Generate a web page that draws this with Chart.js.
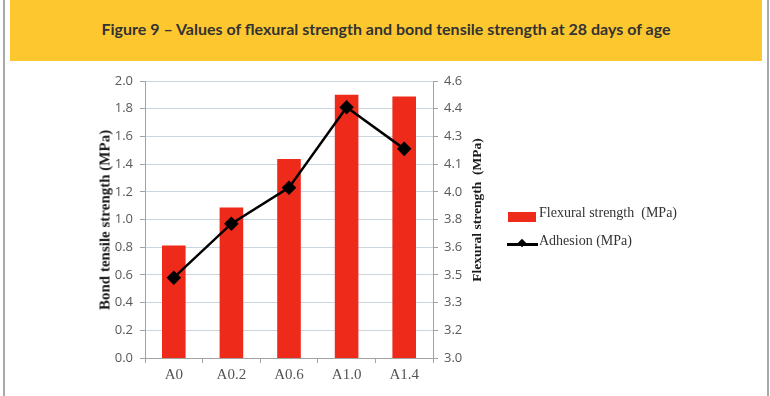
<!DOCTYPE html>
<html>
<head>
<meta charset="utf-8">
<script src="https://cdn.jsdelivr.net/npm/chart.js@4.4.1/dist/chart.umd.min.js"></script>
<style>
  html, body { margin: 0; padding: 0; background: #fff; }
  body { width: 770px; height: 396px; position: relative; overflow: hidden; }
  #frameL { position: absolute; left: 3px; top: 0; width: 2px; height: 396px; background: #a8a8a8; }
  #frameR { position: absolute; left: 767px; top: 0; width: 2px; height: 396px; background: #a8a8a8; }
  #banner { position: absolute; left: 10px; top: 0; width: 752px; height: 61px; background: #fdc82f;
            display: flex; align-items: center; justify-content: center; }
  #banner span { font-family: "Lato", sans-serif; font-weight: bold; font-size: 16px; color: #333; position: relative; top: -2px; }
  #wrap { position: absolute; left: 0; top: 61px; width: 770px; height: 335px; }
  .ytitle { position: absolute; font-family: "Liberation Serif", serif; font-weight: bold; color: #1a1a1a;
            white-space: nowrap; transform: translate(-50%, -50%) rotate(-90deg); }
  #legend { position: absolute; left: 507px; top: 205px; font-family: "Liberation Serif", serif; font-size: 14px; color: #333; }
  .li { position: absolute; white-space: nowrap; }
</style>
</head>
<body>
<div id="frameL"></div>
<div id="frameR"></div>
<div id="banner"><span>Figure 9 – Values of flexural strength and bond tensile strength at 28 days of age</span></div>
<div id="wrap"><canvas id="c" width="770" height="335"></canvas></div>
<div class="ytitle" style="left:105px; top:220px; font-size:15px;">Bond tensile strength (MPa)</div>
<div class="ytitle" style="left:477px; top:210px; font-size:13.5px;">Flexural strength&nbsp;&nbsp;(MPa)</div>
<div id="legend">
  <div class="li" style="left:0; top:0;">
    <span style="position:absolute; left:1px; top:7px; width:28px; height:10px; background:#ee2a1b;"></span>
    <span style="position:absolute; left:32px; top:0px;">Flexural strength&nbsp;&nbsp;(MPa)</span>
  </div>
  <div class="li" style="left:0; top:28px;">
    <span style="position:absolute; left:0px; top:10px; width:31px; height:2.5px; background:#000;"></span>
    <span style="position:absolute; left:12px; top:7px; width:6px; height:6px; background:#000; transform:rotate(45deg);"></span>
    <span style="position:absolute; left:32px; top:0px;">Adhesion (MPa)</span>
  </div>
</div>
<script>
const categories = ['A0', 'A0.2', 'A0.6', 'A1.0', 'A1.4'];
const flexuralStrength = [3.65, 3.87, 4.15, 4.52, 4.51];
const adhesion = [0.58, 0.97, 1.23, 1.81, 1.51];
const leftTickLabels = ['0.0', '0.2', '0.4', '0.6', '0.8', '1.0', '1.2', '1.4', '1.6', '1.8', '2.0'];
const rightTickLabels = ['3.0', '3.2', '3.3', '3.5', '3.6', '3.8', '4.0', '4.1', '4.3', '4.4', '4.6'];

const axisColor = '#a3a3a3';
const tickFont = { family: 'Open Sans, sans-serif', size: 13 };

new Chart(document.getElementById('c'), {
  type: 'bar',
  data: {
    labels: categories,
    datasets: [
      {
        type: 'line',
        label: 'Adhesion (MPa)',
        data: adhesion,
        yAxisID: 'y',
        borderColor: '#000',
        backgroundColor: '#000',
        borderWidth: 2.5,
        pointStyle: 'rectRot',
        pointRadius: 5.5,
        pointBackgroundColor: '#000',
        pointBorderColor: '#000',
        tension: 0,
        order: 0
      },
      {
        type: 'bar',
        label: 'Flexural strength (MPa)',
        data: flexuralStrength,
        yAxisID: 'y1',
        backgroundColor: '#ee2a1b',
        categoryPercentage: 1.0,
        barPercentage: 0.41,
        order: 1
      }
    ]
  },
  options: {
    responsive: false,
    animation: false,
    layout: { padding: { left: 0, right: 282, top: 20, bottom: 0 } },
    plugins: { legend: { display: false }, tooltip: { enabled: false }, title: { display: false } },
    scales: {
      x: {
        offset: true,
        grid: { offset: true, drawOnChartArea: false, tickLength: 5, color: axisColor, tickColor: axisColor },
        border: { color: axisColor },
        ticks: { color: '#555', font: { family: 'Liberation Serif, serif', size: 15 }, padding: 3 },
        afterFit: (s) => { s.height = 38; }
      },
      y: {
        position: 'left',
        min: 0, max: 2.0,
        ticks: { stepSize: 0.2, color: '#595959', font: tickFont, padding: 7,
                 callback: (v, i) => leftTickLabels[i] },
        grid: { color: '#c9d6df', tickColor: axisColor, tickLength: 5, lineWidth: 1 },
        border: { color: axisColor },
        afterFit: (s) => { s.width = 145; }
      },
      y1: {
        position: 'right',
        min: 3.0, max: 4.6,
        ticks: { stepSize: 0.16, color: '#595959', font: tickFont, padding: 6,
                 callback: (v, i) => rightTickLabels[i] },
        grid: { drawOnChartArea: false, tickColor: axisColor, tickLength: 5 },
        border: { color: axisColor },
        afterFit: (s) => { s.width = 55; }
      }
    }
  }
});
</script>
</body>
</html>
